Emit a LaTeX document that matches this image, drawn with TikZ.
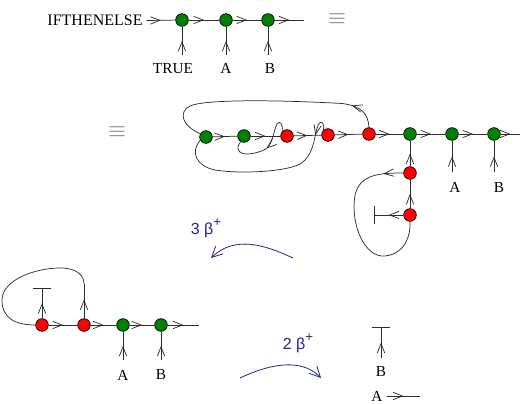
\documentclass[tikz,border=0pt]{standalone}
\usepackage{fontspec}
\setmainfont{Liberation Serif}
\setsansfont{Liberation Sans}
\usetikzlibrary{arrows.meta,decorations.markings}
\definecolor{gnode}{RGB}{0,130,0}
\definecolor{rnode}{RGB}{255,0,0}
\definecolor{bluearr}{RGB}{35,35,145}
\definecolor{ln}{RGB}{45,45,45}
\tikzset{
 gn/.style={circle,draw=black,fill=gnode,minimum size=9.5pt,inner sep=0pt,line width=0.5pt},
 rn/.style={circle,draw=black,fill=rnode,minimum size=9.5pt,inner sep=0pt,line width=0.5pt},
 wire/.style={draw=ln,line width=0.55pt},
 chevat/.style={postaction={decorate},decoration={markings,mark=at position #1 with {\arrow[ln,line width=0.55pt]{Straight Barb[length=7pt,width=5.5pt]}}}},
 chev/.style={chevat=0.5},
 tbar/.style={-{Bar[width=14pt,line width=0.55pt]}},
 lbl/.style={inner sep=0pt,font=\fontsize{11.5pt}{13pt}\selectfont},
 blu/.style={draw=bluearr,line width=0.6pt,-{Straight Barb[length=8pt,width=8pt]}},
 blulbl/.style={text=bluearr,font=\sffamily\fontsize{12pt}{14pt}\selectfont,inner sep=0pt},
 eqv/.style={font=\fontsize{19pt}{20pt}\selectfont,text=black!55,inner sep=0pt}
}
\newcommand{\bplus}{\raisebox{0.5em}{\fontsize{10pt}{10pt}\selectfont +}}
\begin{document}
\begin{tikzpicture}[x=0.75pt,y=-0.75pt]
\useasboundingbox (0,0) rectangle (530,403);
% ---------- top row ----------
\node[lbl,font=\fontsize{12pt}{14pt}\selectfont,inner xsep=2.6pt] (ite) at (95,20.5) {IFTHENELSE};
\node[gn] (t1) at (182,20) {};
\node[gn] (t2) at (226,20) {};
\node[gn] (t3) at (268,20) {};
\coordinate (t4) at (304,20);
\draw[wire,chev] (ite.east) -- (t1);
\draw[wire,chev] (t1) -- (t2);
\draw[wire,chev] (t2) -- (t3);
\draw[wire,chev] (t3) -- (t4);
\coordinate (t1b) at (182,55);
\coordinate (t2b) at (226,55);
\coordinate (t3b) at (268,55);
\draw[wire,chev] (t1b) -- (t1);
\draw[wire,chev] (t2b) -- (t2);
\draw[wire,chev] (t3b) -- (t3);
\node[lbl] (ltrue) at (173,68.3) {TRUE};
\node[lbl] (la1) at (226,68.3) {A};
\node[lbl] (lb1) at (270,68.3) {B};
\node[eqv] (eq1) at (337,19.5) {$\equiv$};
% ---------- middle row ----------
\node[eqv] (eq2) at (117,132) {$\equiv$};
\node[gn] (m1) at (206,137) {};
\node[gn] (m2) at (244,136) {};
\node[rn] (m3) at (287,136) {};
\node[rn] (m4) at (328,135) {};
\node[rn] (m5) at (369,134) {};
\node[gn] (m6) at (410,134) {};
\node[gn] (m7) at (452,134) {};
\node[gn] (m8) at (494,134) {};
\coordinate (m8e) at (520,134);
\draw[wire,chev] (m1) -- (m2);
\draw[wire,chev] (m2) -- (m3);
\draw[wire,chev] (m3) -- (m4);
\draw[wire,chev] (m4) -- (m5);
\draw[wire,chev] (m5) -- (m6);
\draw[wire,chev] (m6) -- (m7);
\draw[wire,chev] (m7) -- (m8);
\draw[wire,chev] (m8) -- (m8e);
\node[rn] (m9) at (410,173) {};
\node[rn] (m10) at (410,215) {};
\draw[wire,chev] (m9) -- (m6);
\draw[wire,chev] (m10) -- (m9);
\coordinate (mbar) at (374,215);
\draw[wire,chev,tbar] (m10) -- (mbar);
\coordinate (m7b) at (452,172);
\coordinate (m8b) at (494,172);
\draw[wire,chev] (m7b) -- (m7);
\draw[wire,chev] (m8b) -- (m8);
\node[lbl] (la2) at (455,187) {A};
\node[lbl] (lb2) at (499,187) {B};
% big top arc m5 -> m1
\draw[wire,chevat=0.13] (m5.north) .. controls (368,114) and (362,106) .. (342,103.5)
   .. controls (280,100) and (205,99) .. (190,106)
   .. controls (178,112) and (182,126) .. (m1.150);
% S-curve m4 -> m1 (below)
\draw[wire,chevat=0.13] (m4.north west) .. controls (325,123) and (321,120) .. (318.5,124)
   .. controls (314,134) and (315,155) .. (300,164)
   .. controls (285,172) and (240,174) .. (215,170)
   .. controls (196,166) and (190,152) .. (m1.210);
% S-curve m3 -> m2
\draw[wire,chevat=0.5] (m3.north west) .. controls (283,124) and (280,120) .. (277,124)
   .. controls (273,132) and (273,146) .. (264,150)
   .. controls (255,154) and (242,156) .. (239,151)
   .. controls (237,148) and (238,145) .. (m2.240);
% loop m9 -> m10
\draw[wire,chevat=0.11] (m9.west) .. controls (380,173) and (360,174) .. (355,195)
   .. controls (350,225) and (365,258) .. (385,256)
   .. controls (405,254) and (411,235) .. (m10.south);
% ---------- blue arrows ----------
\node[blulbl] (b3lbl) at (206,228) {3 β\bplus};
\coordinate (a3s) at (293,258);
\coordinate (a3e) at (211,258);
\draw[blu] (a3s) .. controls (265,245) and (235,235) .. (a3e);
\node[blulbl] (b2lbl) at (298,343) {2 β\bplus};
\coordinate (a2s) at (240,378);
\coordinate (a2e) at (321,378);
\draw[blu] (a2s) .. controls (265,366) and (300,356) .. (a2e);
% ---------- bottom-left ----------
\node[rn] (b1) at (42,325) {};
\node[rn] (b2) at (84,325) {};
\node[gn] (b3) at (123,325) {};
\node[gn] (b4) at (161,325) {};
\coordinate (b4e) at (199,325);
\draw[wire,chev] (b1) -- (b2);
\draw[wire,chev] (b2) -- (b3);
\draw[wire,chev] (b3) -- (b4);
\draw[wire,chev] (b4) -- (b4e);
\coordinate (b1bar) at (42,288);
\draw[wire,chev,tbar] (b1) -- (b1bar);
\coordinate (b2up) at (84,284);
\draw[wire,chevat=0.55] (b2) -- (b2up);
\draw[wire] (b2up) .. controls (84,276) and (78,268) .. (60,268)
   .. controls (35,268) and (2,280) .. (2,300)
   .. controls (2,318) and (15,325) .. (b1.west);
\coordinate (b3b) at (123,360);
\coordinate (b4b) at (161,360);
\draw[wire,chev] (b3b) -- (b3);
\draw[wire,chev] (b4b) -- (b4);
\node[lbl] (la3) at (123,375) {A};
\node[lbl] (lb3) at (161,374) {B};
% ---------- bottom-right ----------
\coordinate (rbbot) at (381,358);
\coordinate (rbtop) at (381,327);
\draw[wire,chev,tbar] (rbbot) -- (rbtop);
\node[lbl] (lb4) at (381,371) {B};
\node[lbl,inner xsep=3pt] (la4) at (377,396) {A};
\coordinate (rae) at (420,396);
\draw[wire,chev] (la4.east) -- (rae);
\end{tikzpicture}
\end{document}
